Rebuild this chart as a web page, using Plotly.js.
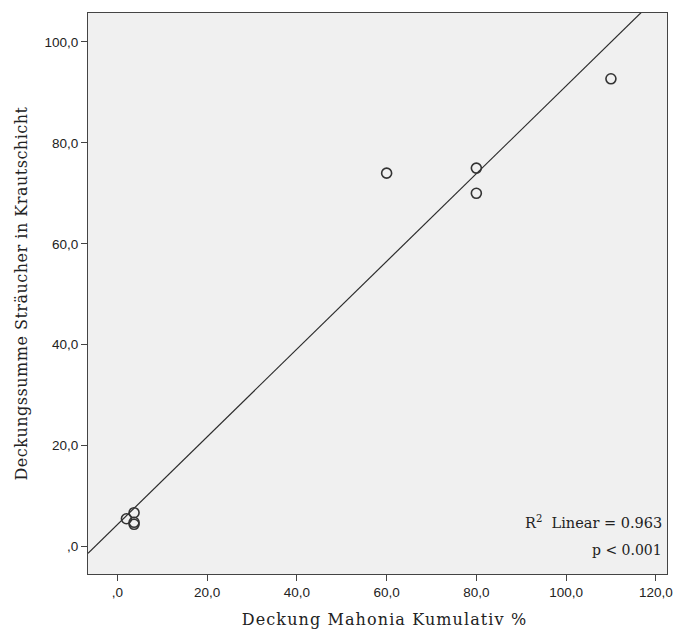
<!DOCTYPE html>
<html>
<head>
<meta charset="utf-8">
<script src="https://cdn.plot.ly/plotly-3.0.1.min.js"></script>
<style>
html,body{margin:0;padding:0;background:#fff;}
#chart{width:673px;height:632px;}
.xtitle{letter-spacing:1.1px;}
.ytitle{letter-spacing:0.5px;}
</style>
</head>
<body>
<div id="chart"></div>
<script>
// Data
const mahonia = [2.0, 3.7, 3.7, 3.7, 60, 80, 80, 110];
const straeucher = [5.5, 6.7, 4.8, 4.4, 74, 75, 70, 92.7];

const xTickVals = [0, 20, 40, 60, 80, 100, 120];
const xTickText = [",0", "20,0", "40,0", "60,0", "80,0", "100,0", "120,0"];
const yTickVals = [0, 20, 40, 60, 80, 100];
const yTickText = [",0", "20,0", "40,0", "60,0", "80,0", "100,0"];

const xRange = [-6.57, 122.5];
const yRange = [-5.45, 105.74];

// Linear least squares fit
const n = mahonia.length;
const mx = mahonia.reduce((a, b) => a + b, 0) / n;
const my = straeucher.reduce((a, b) => a + b, 0) / n;
let sxy = 0, sxx = 0;
for (let i = 0; i < n; i++) { sxy += (mahonia[i] - mx) * (straeucher[i] - my); sxx += (mahonia[i] - mx) ** 2; }
const slope = sxy / sxx;
const intercept = my - slope * mx;
const fitX = xRange.slice();
const fitY = fitX.map(x => intercept + slope * x);

const traces = [
  {x: fitX, y: fitY, mode: 'lines', type: 'scatter', line: {color: '#2b2b2b', width: 1.2}, hoverinfo: 'skip', showlegend: false},
  {x: mahonia, y: straeucher, mode: 'markers', type: 'scatter', showlegend: false,
   marker: {symbol: 'circle-open', size: 10, color: '#333333', line: {width: 1.6, color: '#333333'}}}
];

const axisCommon = {
  showgrid: false, zeroline: false, showline: true, mirror: true,
  linecolor: '#444444', linewidth: 1, ticks: 'outside', ticklen: 6, tickcolor: '#444444', tickwidth: 1,
  ticklabeloverflow: 'allow',
  tickfont: {family: 'Liberation Sans, Arial, sans-serif', size: 13.5, color: '#222'}
};

const layout = {
  width: 673, height: 632,
  margin: {l: 87.5, r: 6, t: 12.5, b: 58},
  paper_bgcolor: '#ffffff', plot_bgcolor: '#f0f0f0',
  xaxis: Object.assign({}, axisCommon, {
    range: xRange, tickmode: 'array', tickvals: xTickVals, ticktext: xTickText,
    title: {text: 'Deckung Mahonia Kumulativ %', font: {family: 'DejaVu Serif, serif', size: 16, color: '#222'}, standoff: 14}
  }),
  yaxis: Object.assign({}, axisCommon, {
    range: yRange, tickmode: 'array', tickvals: yTickVals, ticktext: yTickText,
    title: {text: 'Deckungssumme Sträucher in Krautschicht', font: {family: 'DejaVu Serif, serif', size: 16, color: '#222'}, standoff: 12}
  }),
  annotations: [
    {xref: 'paper', yref: 'paper', x: 0.994, y: 0.093, xanchor: 'right', yanchor: 'middle', showarrow: false,
     text: 'R<sup>2</sup>  Linear = 0.963', font: {family: 'DejaVu Serif, serif', size: 14.5, color: '#222'}},
    {xref: 'paper', yref: 'paper', x: 0.994, y: 0.043, xanchor: 'right', yanchor: 'middle', showarrow: false,
     text: 'p < 0.001', font: {family: 'DejaVu Serif, serif', size: 14, color: '#222'}}
  ]
};

Plotly.newPlot('chart', traces, layout, {displayModeBar: false, staticPlot: true}).then(function () {
  // shift the x title slightly to match the reference placement
  document.querySelectorAll('.xtitle').forEach(function (t) {
    t.setAttribute('x', parseFloat(t.getAttribute('x')) + 7);
  });
});
</script>
</body>
</html>
